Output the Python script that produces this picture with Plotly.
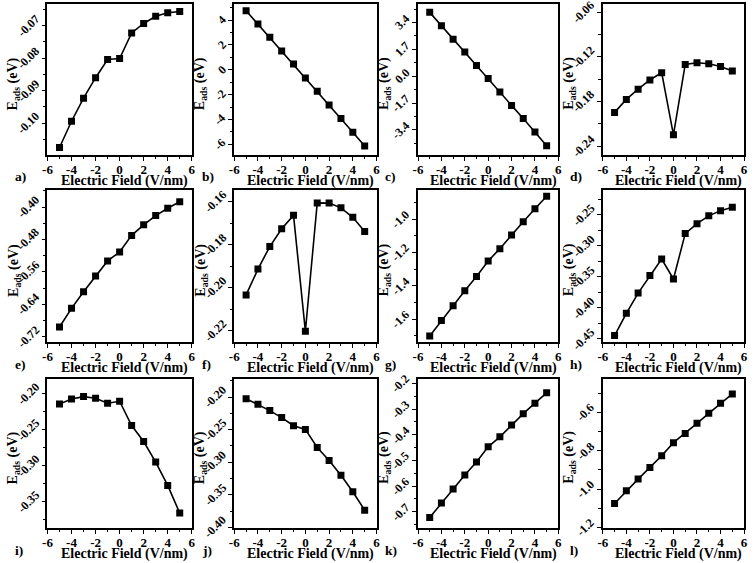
import plotly.graph_objects as go

field = [-5, -4, -3, -2, -1, 0, 1, 2, 3, 4, 5]

eads_a = [-0.1075, -0.0994, -0.0923, -0.0860, -0.0804, -0.0801, -0.0722, -0.0693, -0.0671, -0.0660, -0.0656]
eads_b = [4.76, 3.68, 2.62, 1.51, 0.46, -0.65, -1.73, -2.84, -3.92, -5.03, -6.14]
eads_c = [4.04, 3.19, 2.34, 1.53, 0.68, -0.15, -1.00, -1.85, -2.68, -3.53, -4.40]
eads_d = [-0.1947, -0.1773, -0.1636, -0.1511, -0.1413, -0.2249, -0.1302, -0.1280, -0.1293, -0.1329, -0.1391]
eads_e = [-0.696, -0.650, -0.609, -0.570, -0.533, -0.511, -0.470, -0.444, -0.421, -0.403, -0.387]
eads_f = [-0.2033, -0.1913, -0.1808, -0.1725, -0.1663, -0.2202, -0.1605, -0.1606, -0.1628, -0.1672, -0.1738]
eads_g = [-1.701, -1.608, -1.519, -1.429, -1.344, -1.251, -1.177, -1.095, -1.016, -0.938, -0.862]
eads_h = [-0.4447, -0.4089, -0.3763, -0.3479, -0.3216, -0.3537, -0.2806, -0.2647, -0.2521, -0.2437, -0.2384]
eads_i = [-0.2139, -0.2069, -0.2037, -0.2060, -0.2130, -0.2102, -0.2440, -0.2662, -0.2949, -0.3273, -0.3658]
eads_j = [-0.2025, -0.2111, -0.2207, -0.2314, -0.2440, -0.2496, -0.2774, -0.2972, -0.3199, -0.3453, -0.3736]
eads_k = [-0.7223, -0.666, -0.611, -0.557, -0.506, -0.447, -0.408, -0.362, -0.318, -0.277, -0.237]
eads_l = [-1.075, -1.009, -0.948, -0.887, -0.826, -0.758, -0.710, -0.657, -0.605, -0.553, -0.504]

x_ticks = [-6, -4, -2, 0, 2, 4, 6]
x_title = "Electric Field (V/nm)"
y_title = "E<sub>ads</sub> (eV)"
panel_labels = ["a)", "b)", "c)", "d)", "e)", "f)", "g)", "h)", "i)", "j)", "k)", "l)"]

yticks_a = [-0.10, -0.09, -0.08, -0.07]
yticks_b = [-6, -4, -2, 0, 2, 4]
yticks_c = [-3.4, -1.7, 0.0, 1.7, 3.4]
yticks_d = [-0.24, -0.18, -0.12, -0.06]
yticks_e = [-0.72, -0.64, -0.56, -0.48, -0.40]
yticks_f = [-0.22, -0.20, -0.18, -0.16]
yticks_g = [-1.6, -1.4, -1.2, -1.0]
yticks_h = [-0.45, -0.40, -0.35, -0.30, -0.25]
yticks_i = [-0.35, -0.30, -0.25, -0.20]
yticks_j = [-0.40, -0.35, -0.30, -0.25, -0.20]
yticks_k = [-0.7, -0.6, -0.5, -0.4, -0.3, -0.2]
yticks_l = [-1.2, -1.0, -0.8, -0.6]

series = [eads_a, eads_b, eads_c, eads_d, eads_e, eads_f, eads_g, eads_h, eads_i, eads_j, eads_k, eads_l]
yticks = [yticks_a, yticks_b, yticks_c, yticks_d, yticks_e, yticks_f, yticks_g, yticks_h, yticks_i, yticks_j, yticks_k, yticks_l]

# styling / layout configuration
fmt = [".2f", ".0f", ".1f", ".2f", ".2f", ".2f", ".1f", ".2f", ".2f", ".2f", ".1f", ".1f"]
yranges = [[-0.1098, -0.0633], [-6.86, 5.3], [-4.99, 4.57], [-0.252, -0.049],
           [-0.733, -0.358], [-0.2252, -0.1545], [-1.737, -0.825], [-0.455, -0.2105],
           [-0.3866, -0.1792], [-0.401, -0.1722], [-0.763, -0.183], [-1.203, -0.426]]
yminor = [0.005, 1, 0.85, 0.03, 0.04, 0.01, 0.1, 0.025, 0.025, 0.025, 0.05, 0.1]

W, H = 756, 563
cols_px = [(43, 189), (232, 376), (418, 560), (605, 748)]
rows_px = [(4, 155), (190, 342), (379, 528)]

FONT = "Liberation Serif"
fig = go.Figure()
annotations = []
for idx, ys in enumerate(series):
    r, c = divmod(idx, 4)
    n = idx + 1
    xa = "xaxis" if n == 1 else f"xaxis{n}"
    ya = "yaxis" if n == 1 else f"yaxis{n}"
    xref = "x" if n == 1 else f"x{n}"
    yref = "y" if n == 1 else f"y{n}"
    fig.add_trace(go.Scatter(x=field, y=ys, mode="lines+markers", xaxis=xref, yaxis=yref,
                             line=dict(color="black", width=1.6),
                             marker=dict(symbol="square", size=7, color="black"),
                             showlegend=False))
    x0, x1 = cols_px[c]
    y0, y1 = rows_px[r]
    dom_x = [x0 / W, x1 / W]
    dom_y = [1 - y1 / H, 1 - y0 / H]
    fig.layout[xa] = dict(domain=dom_x, anchor=yref, range=[-6, 6], tickvals=x_ticks,
                          ticktext=[f"<b>{v}</b>" for v in x_ticks], showline=True, mirror=True,
                          linecolor="black", linewidth=1.8, ticks="outside", ticklen=4,
                          tickwidth=1.4, tickcolor="black", showgrid=False, zeroline=False,
                          ticklabelstandoff=-3,
                          tickfont=dict(family=FONT, size=13, color="black"),
                          minor=dict(dtick=1, tick0=0, ticks="outside", ticklen=2.5,
                                     tickcolor="black", tickwidth=1.2))
    yt = yticks[idx]
    fig.layout[ya] = dict(domain=dom_y, anchor=xref, range=yranges[idx], tickvals=yt,
                          showticklabels=False, showline=True, mirror=True,
                          linecolor="black", linewidth=1.8, ticks="outside", ticklen=4,
                          tickwidth=1.4, tickcolor="black", showgrid=False, zeroline=False,
                          minor=dict(dtick=yminor[idx], tick0=yt[0], ticks="outside", ticklen=2.5,
                                     tickcolor="black", tickwidth=1.2))
    # rotated y tick labels
    for v in yt:
        annotations.append(dict(text=f"<b>{format(v, fmt[idx])}</b>", xref=f"{xref} domain", yref=yref,
                                x=0, y=v, xshift=-4, showarrow=False, textangle=-45,
                                xanchor="right", yanchor="middle", borderpad=0,
                                font=dict(family=FONT, size=12, color="black")))
    # x axis title
    annotations.append(dict(text=f"<b>{x_title}</b>", xref="paper", yref="paper",
                            x=((x0 + x1) / 2 + 5) / W, y=1 - (y1 + 26) / H, showarrow=False,
                            xanchor="center", yanchor="middle",
                            font=dict(family=FONT, size=14, color="black")))
    # y axis title
    annotations.append(dict(text=f"<b>{y_title}</b>", xref="paper", yref="paper",
                            x=(x0 - 34) / W, y=1 - ((y0 + y1) / 2 + 4) / H, showarrow=False,
                            textangle=-90, xanchor="center", yanchor="middle",
                            font=dict(family=FONT, size=14, color="black")))
    # panel label
    annotations.append(dict(text=f"<b>{panel_labels[idx]}</b>", xref="paper", yref="paper",
                            x=(x0 - 35) / W, y=1 - (y1 + 22) / H, showarrow=False,
                            xanchor="left", yanchor="middle",
                            font=dict(family=FONT, size=13.5, color="black")))

fig.update_layout(width=W, height=H, margin=dict(l=0, r=0, t=0, b=0),
                  paper_bgcolor="white", plot_bgcolor="white",
                  annotations=annotations, showlegend=False)
fig.write_html("out.html", config={"displayModeBar": False},
               post_script="document.body.style.margin='0';document.body.style.overflow='hidden';")
